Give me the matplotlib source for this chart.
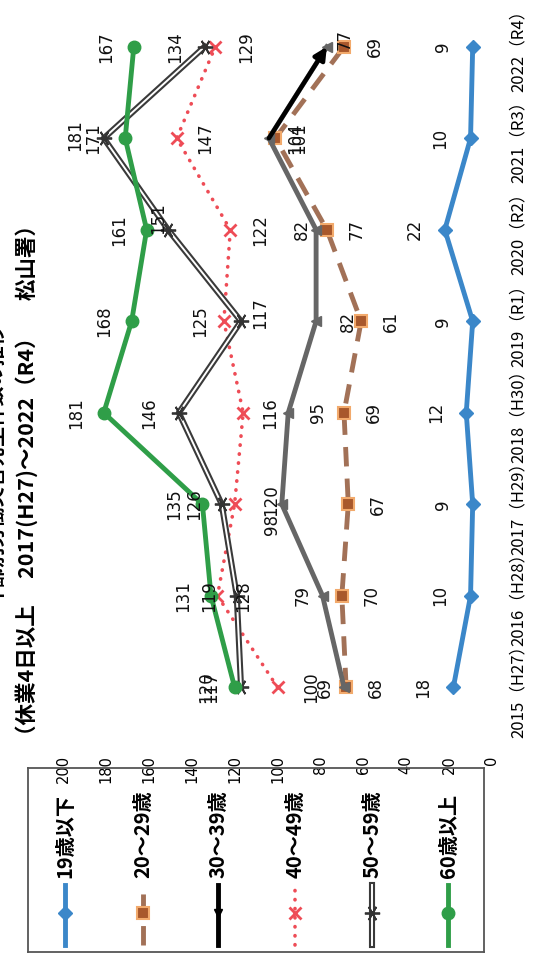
import matplotlib
matplotlib.use("Agg")
import matplotlib.pyplot as plt
import matplotlib.patheffects as pe
from matplotlib import font_manager

# * Data

years = ["2015（H27）", "2016（H28）", "2017（H29）", "2018（H30）",
         "2019（R1）", "2020（R2）", "2021（R3）", "2022（R4）"]
groups = ["19歳以下", "20～29歳", "30～39歳", "40～49歳", "50～59歳", "60歳以上"]

under19 = [18, 10, 9, 12, 9, 22, 10, 9]
age20s = [68, 70, 67, 69, 61, 77, 101, 69]
age30s = [69, 79, 98, 95, 82, 82, 104, 77]
age40s = [100, 128, 120, 116, 125, 122, 147, 129]
age50s = [117, 119, 126, 146, 117, 151, 181, 134]
over60 = [120, 131, 135, 181, 168, 161, 171, 167]

value_ticks = list(range(0, 201, 20))

title1 = "年齢別労働災害発生件数の推移"
title2 = "（休業4日以上　 2017(H27)～2022（R4）　 松山署）"

# * Fonts

CJK = ["Noto Sans CJK JP", "DejaVu Sans"]
names = {f.name for f in font_manager.fontManager.ttflist}
NUM = "Liberation Sans Narrow" if "Liberation Sans Narrow" in names else "DejaVu Sans"
plt.rcParams["font.family"] = CJK

# * Styles (page is turned: values run right to left, years bottom to top)

double = [pe.Stroke(linewidth=4.4, foreground="#3a3a3a"), pe.Normal()]
line_styles = [
    dict(color="#3b87c9", lw=3.5),
    dict(color="#a27157", lw=3.5, ls=(0, (4, 2.5))),
    dict(color="#666666", lw=3.5),
    dict(color="#ee4c56", lw=2.6, ls=(0, (0.1, 2.4)), dash_capstyle="round"),
    dict(color="white", lw=1.4, path_effects=double),
    dict(color="#2f9e48", lw=3.5),
]
marker_styles = [
    dict(marker="D", ms=7, mfc="#3b87c9", mec="#3b87c9"),
    dict(marker="s", ms=9, mfc="#a8582c", mec="#f2aa6c", mew=1.5),
    dict(marker="<", ms=7, mfc="#666666", mec="#666666"),
    dict(marker="x", ms=9, mec="#ee4c56", mew=2),
    dict(marker=(6, 2, 90), ms=11, mec="#333333", mew=1.3),
    dict(marker="o", ms=9, mfc="#2f9e48", mec="#2f9e48"),
]
series = [under19, age20s, age30s, age40s, age50s, over60]

# Data label offsets in pixels (dx, dy).
offsets = [
    [(-30, 0)] * 8,
    [(30, 0)] * 6 + [(24, 0), (31, 0)],
    [(-19, 0), (-20, 0), (-10, -20), (30, 0), (32, 0), (-14, 0), (26, 0), (18, 7)],
    [(34, 0), (26, 0), (37, 4), (27, 0), (-24, 0), (30, 0), (28, 0), (31, 0)],
    [(-30, 0), (-28, 0), (-28, 0), (-30, 0), (19, 8), (-10, 12), (-29, 3), (-29, 0)],
    [(-28, 0)] * 6 + [(-32, 0), (-28, 0)],
]

# * Figure

W, H = 534, 955
fig = plt.figure(figsize=(W / 100, H / 100), dpi=100)
fig.patch.set_facecolor("white")

ax = fig.add_axes([63 / W, (H - 733) / H, 429 / W, 732 / H])
ax.set_xlim(200, 0)
ax.set_ylim(-0.5, len(years) - 0.5)
for s in ax.spines.values():
    s.set_visible(False)

pos = list(range(len(years)))
for i, vals in enumerate(series):
    ax.plot(vals, pos, zorder=2 + i, clip_on=False, **line_styles[i])
    ax.plot(vals, pos, ls="none", zorder=2 + i, clip_on=False, **marker_styles[i])
    for j, v in enumerate(vals):
        dx, dy = offsets[i][j]
        ax.annotate(str(v), (v, j), xytext=(dx, dy), textcoords="offset pixels",
                    rotation=90, ha="center", va="center", fontsize=12,
                    family=NUM, color="#111111", zorder=10)

# last 30~39 segment drawn as a black arrow
ax.annotate("", xy=(age30s[7], 7), xytext=(age30s[6], 6),
            arrowprops=dict(arrowstyle="-|>", color="black", lw=3.2,
                            mutation_scale=18, shrinkA=0, shrinkB=0),
            zorder=4)

ax.set_xticks(value_ticks)
ax.set_xticklabels([str(v) for v in value_ticks], rotation=90, fontsize=10.5,
                   family=NUM)
ax.tick_params(axis="x", length=0, pad=16)

ax.yaxis.tick_right()
ax.set_yticks(pos)
ax.set_yticklabels(years, rotation=90, va="center", fontsize=12)
ax.tick_params(axis="y", length=0, pad=13)

# * Legend, built by hand so that it turns with the page

lg = fig.add_axes([28 / W, 3 / H, 456 / W, 184 / H])
lg.set_xlim(0, 456)
lg.set_ylim(0, 184)
lg.set_xticks([])
lg.set_yticks([])
lg.patch.set_alpha(0)
for s in lg.spines.values():
    s.set_color("#555555")
    s.set_linewidth(1.3)

lx = [37, 115, 190, 267, 344, 420]
for i, name in enumerate(groups):
    ls_ = dict(line_styles[i])
    ms_ = dict(marker_styles[i])
    if i == 2:
        ls_["color"] = "black"
        ms_.update(mfc="black", mec="black", marker="v", ms=6)
    lg.plot([lx[i], lx[i]], [7, 67], **ls_)
    lg.plot([lx[i]], [39], ls="none", **ms_)
    lg.text(lx[i], 74, name, rotation=90, ha="center", va="bottom",
            fontsize=14.5, weight="bold")

# * Title

fig.text(-4 / W, 1 - 465 / H, title1, rotation=90, ha="center", va="center",
         fontsize=14.5, weight="bold")
fig.text(27 / W, 1 - 480 / H, title2, rotation=90, ha="center", va="center",
         fontsize=15.5, weight="bold")

plt.savefig("out.png", dpi=100)
